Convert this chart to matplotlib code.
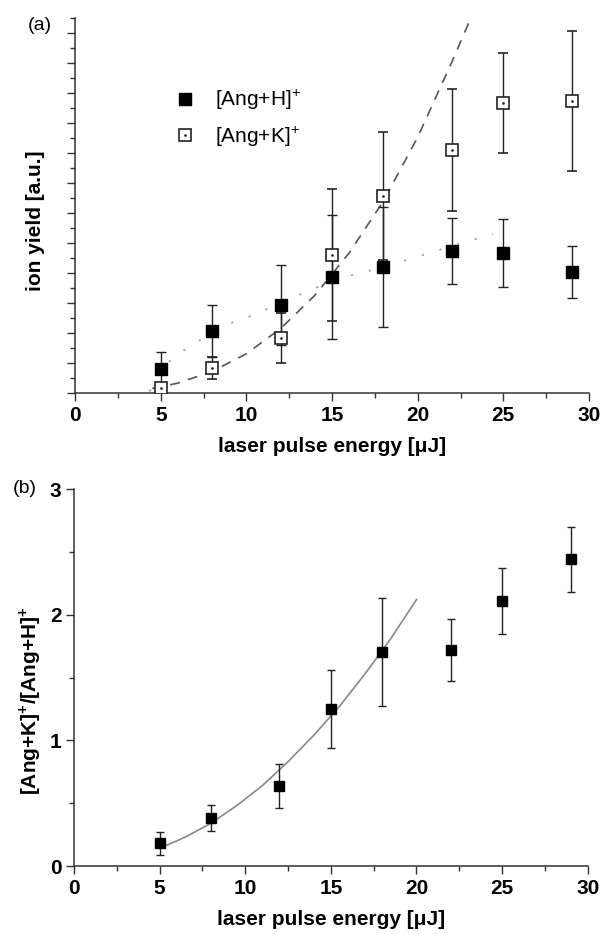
import matplotlib
matplotlib.use("Agg")
import matplotlib.pyplot as plt
from matplotlib.ticker import MultipleLocator, NullFormatter
from matplotlib.lines import Line2D

plt.rcParams["font.family"] = "Liberation Sans"
plt.rcParams["mathtext.fontset"] = "custom"
plt.rcParams["mathtext.rm"] = "Liberation Sans"
plt.rcParams["mathtext.bf"] = "Liberation Sans:bold"

# laser pulse energy (uJ)
energy = [5, 8, 12, 15, 18, 22, 25, 29]

# (a) ion yield, arbitrary units
ang_h = [0.80, 2.07, 2.93, 3.87, 4.20, 4.73, 4.67, 4.03]
ang_h_err = [0.57, 0.87, 1.33, 2.06, 2.00, 1.10, 1.13, 0.87]
ang_k = [0.17, 0.83, 1.83, 4.60, 6.57, 8.10, 9.67, 9.73]
ang_k_err = [0.15, 0.37, 0.83, 2.20, 2.13, 2.03, 1.67, 2.33]

# fit curves
fit_k_x = [4.5, 6, 8, 10, 12, 14, 16, 18, 20, 22, 23.1]
fit_k_y = [0.15, 0.33, 0.72, 1.31, 2.15, 3.26, 4.67, 6.40, 8.53, 11.04, 12.5]
fit_h_x = [4.35, 4.6, 5, 5.5, 6.2, 7.1, 8, 8.8, 10.4, 12, 14, 16, 18, 20, 22, 24.4]
fit_h_y = [0.05, 0.55, 0.85, 1.05, 1.37, 1.70, 2.00, 2.27, 2.60, 3.00, 3.50, 3.90, 4.20, 4.55, 4.90, 5.30]

# (b) ratio [Ang+K]+/[Ang+H]+
ratio = [0.18, 0.38, 0.64, 1.25, 1.70, 1.72, 2.11, 2.44]
ratio_err = [0.09, 0.105, 0.175, 0.31, 0.43, 0.245, 0.26, 0.26]
fit_r_x = [5, 6.5, 8, 9.5, 11, 12.5, 14, 15.5, 17, 18.5, 20]
fit_r_y = [0.14, 0.23, 0.34, 0.48, 0.64, 0.83, 1.04, 1.27, 1.53, 1.81, 2.12]

axcol = "#333333"
xlab = "laser pulse energy [\u03bcJ]"
fs = 15

fig = plt.figure(figsize=(6.01, 9.34), dpi=100)
ax1 = fig.add_axes([0.125, 0.5792, 0.855, 0.4015])
ax2 = fig.add_axes([0.123, 0.0728, 0.855, 0.4036])


def style_axes(ax):
    for s in ["top", "right"]:
        ax.spines[s].set_visible(False)
    for s in ["left", "bottom"]:
        ax.spines[s].set_color(axcol)
        ax.spines[s].set_linewidth(1.1)
    ax.tick_params(which="major", direction="out", length=6, width=1.0, color=axcol,
                   labelsize=fs, pad=3)
    ax.tick_params(which="minor", direction="out", length=3.5, width=1.0, color=axcol)
    for lab in ax.get_xticklabels() + ax.get_yticklabels():
        lab.set_fontweight("bold")
    ax.set_xlim(0, 30)
    ax.xaxis.set_major_locator(MultipleLocator(5))
    ax.xaxis.set_minor_locator(MultipleLocator(2.5))
    ax.set_xlabel(xlab, fontsize=fs, fontweight="bold", labelpad=9)


# ---- panel (a)
ax1.plot(fit_k_x, fit_k_y, color="#555555", lw=1.2, dashes=[6, 5], zorder=1)
ax1.plot(fit_h_x, fit_h_y, color="#a0a0a0", lw=1.3, dashes=[1.2, 9], zorder=1)
ax1.errorbar(energy, ang_k, yerr=ang_k_err, fmt="s", ms=8, mfc="white", mec="#222222",
             mew=1.2, ecolor="#222222", elinewidth=1.0, capsize=3.3, capthick=1.0, zorder=3)
ax1.plot(energy, ang_k, ".", ms=1.8, color="#222222", zorder=4)
ax1.errorbar(energy, ang_h, yerr=ang_h_err, fmt="s", ms=8, mfc="black", mec="black",
             ecolor="#222222", elinewidth=1.0, capsize=3.3, capthick=1.0, zorder=3)
ax1.set_ylim(0, 12.5)
ax1.yaxis.set_major_locator(MultipleLocator(1))
ax1.yaxis.set_minor_locator(MultipleLocator(0.5))
ax1.yaxis.set_major_formatter(NullFormatter())
style_axes(ax1)
ax1.set_ylabel("ion yield [a.u.]", fontsize=fs, fontweight="bold")
ax1.yaxis.set_label_coords(-0.058, 0.46)

h_handle = Line2D([], [], marker="s", ms=8, color="black", ls="none")
k_box = Line2D([], [], marker="s", ms=8, mfc="white", mec="#222222", mew=1.2, ls="none")
k_dot = Line2D([], [], marker=".", ms=1.8, color="#222222", ls="none")
ax1.legend([h_handle, (k_box, k_dot)], [r"[Ang+H]$^{\!+}$", r"[Ang+K]$^{\!+}$"],
           loc="center left", bbox_to_anchor=(0.158, 0.733), frameon=False,
           fontsize=15, handlelength=1.0, handletextpad=0.9, labelspacing=0.55)

fig.text(40 / 601, 1 - 25 / 934, "(a)", fontsize=14, ha="center", va="center")

# ---- panel (b)
ax2.plot(fit_r_x, fit_r_y, color="#888888", lw=1.2, zorder=1)
ax2.errorbar(energy, ratio, yerr=ratio_err, fmt="s", ms=6.5, mfc="black", mec="black",
             ecolor="#222222", elinewidth=1.0, capsize=3.0, capthick=1.0, zorder=3)
ax2.set_ylim(0, 3)
ax2.yaxis.set_major_locator(MultipleLocator(1))
ax2.yaxis.set_minor_locator(MultipleLocator(0.5))
style_axes(ax2)
ax2.set_ylabel(r"[Ang+K]$^\mathbf{+}$/[Ang+H]$^\mathbf{+}$", fontsize=fs, fontweight="bold")
ax2.yaxis.set_label_coords(-0.06, 0.44)

fig.text(25 / 601, 1 - 489 / 934, "(b)", fontsize=14, ha="center", va="center")

fig.savefig("out.png", dpi=100)
